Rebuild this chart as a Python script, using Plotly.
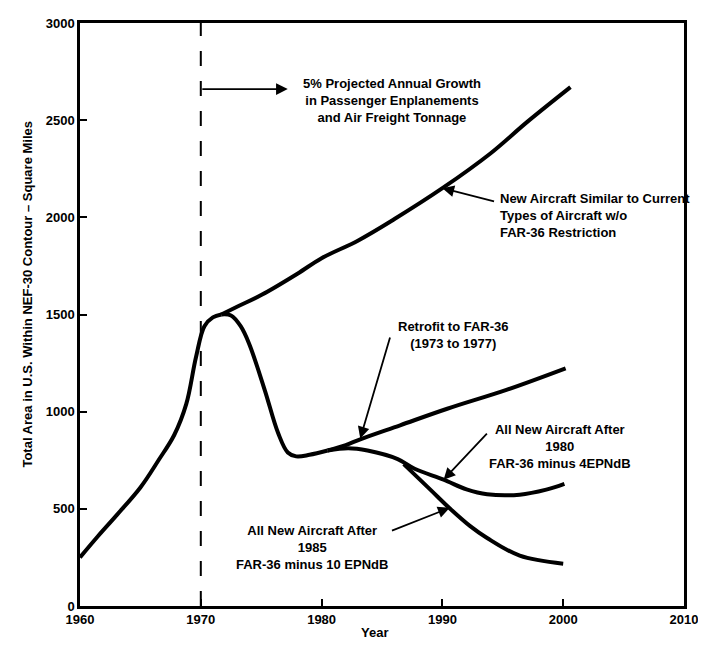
import plotly.graph_objects as go

# values (year, square miles)
base_years = [1960, 1961.5, 1963, 1965, 1966.5, 1967.8, 1968.8, 1969.6, 1970.3, 1971, 1971.7]
base_area = [250, 360, 465, 610, 750, 880, 1040, 1280, 1440, 1485, 1500]

growth_years = [1971.7, 1973, 1975, 1978, 1980, 1983, 1986, 1990, 1994, 1997, 2000.6]
growth_area = [1500, 1540, 1600, 1710, 1790, 1880, 1990, 2150, 2330, 2490, 2670]

dip_years = [1971.7, 1972.5, 1973.3, 1974, 1975.3, 1976.4, 1977.2, 1977.9, 1979, 1980.5]
dip_area = [1500, 1495, 1440, 1350, 1110, 890, 790, 770, 778, 800]

retro_years = [1980.5, 1982, 1983.2, 1986.5, 1990.4, 1995.3, 2000.2]
retro_area = [800, 828, 858, 930, 1015, 1112, 1223]

new80_years = [1980.5, 1982.2, 1983.8, 1986.3, 1987.7, 1990.1, 1992, 1993.7, 1996.4, 1998.6, 2000.1]
new80_area = [800, 812, 800, 756, 706, 650, 600, 575, 573, 599, 629]

new85_years = [1986.8, 1989, 1990.6, 1992.3, 1993.7, 1996.4, 2000]
new85_area = [730, 599, 503, 411, 350, 259, 218]

x_ticks = [1960, 1970, 1980, 1990, 2000, 2010]
y_ticks = [0, 500, 1000, 1500, 2000, 2500, 3000]

FONT = "Liberation Sans Narrow, Arial Narrow, Liberation Sans, Arial"
TICKFONT = dict(family="Liberation Sans, Arial", size=13, color="black", weight="bold")

fig = go.Figure()
for xs, ys in [(base_years, base_area), (growth_years, growth_area), (dip_years, dip_area),
               (retro_years, retro_area), (new80_years, new80_area), (new85_years, new85_area)]:
    fig.add_trace(go.Scatter(
        x=xs, y=ys, mode="lines", showlegend=False, hoverinfo="skip",
        line=dict(color="black", width=4, shape="spline", smoothing=1.0),
    ))

# 1970 dashed marker
fig.add_shape(type="line", x0=1970, x1=1970, y0=0, y1=3000, xref="x", yref="y",
              line=dict(color="black", width=2, dash="longdash"))


def note(text, x, y, **kw):
    fig.add_annotation(x=x, y=y, text=text, showarrow=False,
                       font=dict(family=FONT, size=13, color="black", weight="bold"), **kw)


def arrow(x, y, ax, ay):
    fig.add_annotation(x=x, y=y, ax=ax, ay=ay, axref="x", ayref="y", text="",
                       showarrow=True, arrowhead=2, arrowsize=1.3, arrowwidth=1.8,
                       arrowcolor="black", standoff=0, startstandoff=0)


note("5% Projected Annual Growth<br>in Passenger Enplanements<br>and Air Freight Tonnage",
     1985.8, 2600, align="center")
arrow(1977.2, 2660, 1970, 2660)

note("New Aircraft Similar to Current<br>Types of Aircraft w/o<br>FAR-36 Restriction",
     1994.6, 2010, align="left", xanchor="left")
arrow(1990, 2150, 1994.4, 2080)

note("Retrofit to FAR-36<br>(1973 to 1977)", 1990.9, 1395, align="center")
arrow(1983.2, 862, 1985.7, 1390)

note("All New Aircraft After<br>1980<br>FAR-36 minus 4EPNdB", 1999.7, 820, align="center")
arrow(1990.1, 650, 1993.8, 895)

note("All New Aircraft After<br>1985<br>FAR-36 minus 10 EPNdB", 1979.2, 300, align="center")
arrow(1990.6, 505, 1985.7, 385)

# axis titles placed by hand
note("Total Area in U.S. Within NEF-30 Contour \u2013 Square Miles", 0, 0.535,
     xref="paper", yref="paper", xshift=-62, textangle=-90)
note("Year", 0.488, -0.061, xref="paper", yref="paper")

axis_common = dict(showline=True, mirror=True, linecolor="black", linewidth=2.5,
                   showgrid=False, zeroline=False, ticks="inside", ticklen=7,
                   tickwidth=2, tickcolor="black", tickfont=TICKFONT)
fig.update_xaxes(range=[1960, 2010], tickvals=x_ticks, ticklabeloverflow="allow", **axis_common)
fig.update_yaxes(range=[0, 3000], tickvals=y_ticks, **axis_common)

# page body adds an 8px offset, so the figure is sized to end at the window edge
fig.update_layout(
    width=698, height=643,
    margin=dict(l=72, r=17, t=8, b=45),
    plot_bgcolor="white", paper_bgcolor="white",
    font=dict(family=FONT, color="black"),
)

fig.write_html("out.html")
